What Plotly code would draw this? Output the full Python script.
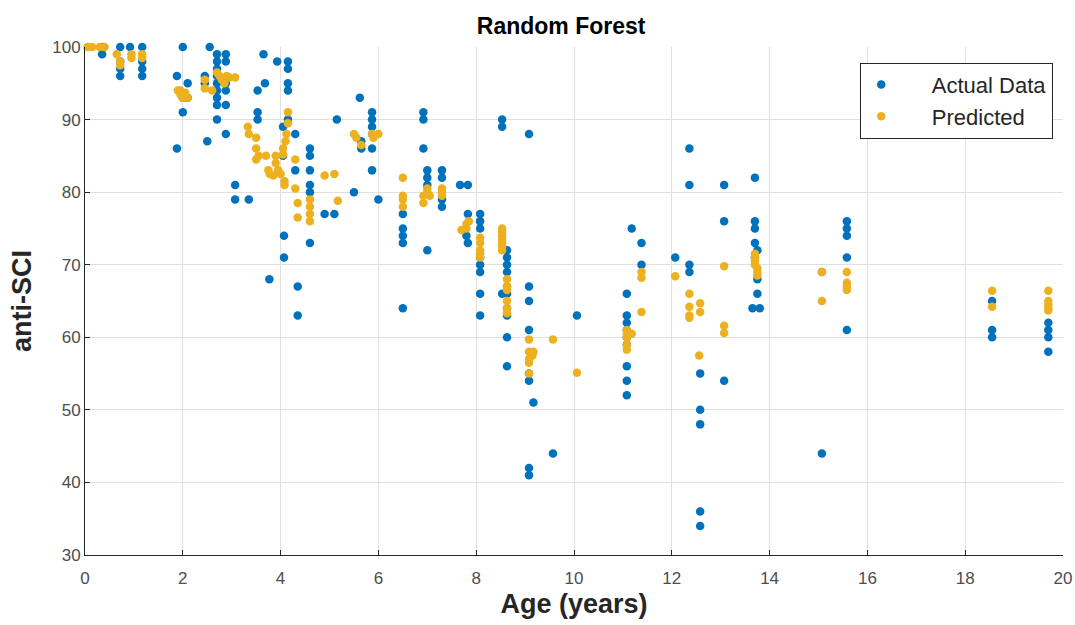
import plotly.graph_objects as go

# ---- data ----
actual_age = [0.35, 0.35,
              0.72, 0.72, 0.72, 0.72,
              0.92,
              1.17, 1.17, 1.17, 1.17,
              1.88, 1.88,
              2.0, 2.0, 2.0,
              2.1, 2.1,
              2.45, 2.45, 2.5,
              2.55,
              2.7, 2.7, 2.7, 2.7, 2.7, 2.7, 2.7, 2.7, 2.7,
              2.88, 2.88, 2.88, 2.88, 2.88, 2.88,
              3.07, 3.07, 3.35,
              3.53, 3.53, 3.53,
              3.65, 3.68,
              3.77,
              3.93,
              4.05, 4.05, 4.07, 4.07,
              4.15, 4.15, 4.15, 4.15, 4.15,
              4.3, 4.3,
              4.35, 4.35,
              4.6, 4.6, 4.6, 4.6, 4.6, 4.6,
              4.9, 5.1, 5.15,
              5.5,
              5.62, 5.65, 5.65,
              5.87, 5.87, 5.87, 5.87, 5.87, 5.87,
              6.0,
              6.5, 6.5, 6.5, 6.5, 6.5,
              6.92, 6.92, 6.92,
              7.0, 7.0, 7.0, 7.0,
              7.3, 7.3, 7.3, 7.3,
              7.67, 7.83,
              7.83, 7.83, 7.8,
              8.08, 8.08, 8.08, 8.08, 8.08, 8.08, 8.08, 8.08,
              8.53, 8.53, 8.53,
              8.63, 8.63, 8.63, 8.63, 8.63, 8.63, 8.63, 8.63, 8.63, 8.63,
              9.08, 9.08, 9.08, 9.08, 9.08, 9.08, 9.08, 9.08,
              9.17,
              9.57,
              10.06,
              11.08, 11.08, 11.08, 11.08, 11.08, 11.08, 11.08, 11.08, 11.08,
              11.18, 11.38, 11.38,
              12.07,
              12.36, 12.36, 12.36, 12.36,
              12.58, 12.58, 12.58, 12.58, 12.58,
              13.07, 13.07, 13.07,
              13.7, 13.7, 13.7, 13.7, 13.75, 13.7, 13.75, 13.75, 13.65, 13.8,
              15.07, 15.07,
              15.58, 15.58, 15.58, 15.58, 15.58,
              18.55, 18.55, 18.55,
              19.7, 19.7, 19.7, 19.7]
actual_sci = [100, 99,
              100, 98, 97, 96,
              100,
              100, 98, 97, 96,
              96, 86,
              100, 93, 91,
              95, 93,
              96, 95, 87,
              100,
              99, 98, 97, 96, 95, 94, 93, 92, 90,
              99, 98, 95, 94, 92, 88,
              81, 79, 79,
              94, 91, 90,
              99, 95,
              68,
              98,
              89, 85, 74, 71,
              98, 97, 95, 94, 90,
              88, 83,
              67, 63,
              86, 85, 83, 81, 80, 73,
              77, 77, 90,
              80,
              93, 87, 86,
              91, 90, 89, 88, 86, 83,
              79,
              77, 75, 74, 73, 64,
              91, 90, 86,
              83, 82, 81, 72,
              83, 82, 79, 78,
              81, 81,
              77, 73, 74,
              77, 76, 75, 71, 70, 69, 66, 63,
              90, 89, 66,
              72, 71, 70, 69, 67, 66, 64, 63, 60, 56,
              88, 67, 65, 61, 55, 54, 42, 41,
              51,
              44,
              63,
              66, 63, 62, 61, 60, 59, 56, 54, 52,
              75, 73, 70,
              71,
              86, 81, 70, 69,
              55, 50, 48, 36, 34,
              81, 76, 54,
              82, 76, 75, 73, 72, 71, 68, 66, 64, 64,
              69, 44,
              76, 75, 74, 71, 61,
              65, 61, 60,
              62, 61, 60, 58]

pred_age = [0.05, 0.15, 0.3, 0.4,
            0.65, 0.72, 0.72,
            0.95, 0.95,
            1.17, 1.17,
            1.9, 1.95, 2.0, 2.05, 2.1, 1.95,
            2.45, 2.45, 2.6,
            2.7, 2.75, 2.8, 2.85, 2.9, 2.95,
            3.07,
            3.33, 3.35,
            3.5, 3.5, 3.55, 3.5,
            3.7, 3.75, 3.78, 3.85, 3.9, 3.95, 3.9, 4.0,
            4.15, 4.15, 4.12, 4.1, 4.05, 4.08, 4.08, 4.05,
            4.3, 4.3,
            4.35, 4.35,
            4.6, 4.6, 4.6, 4.6,
            4.9, 5.1, 5.17,
            5.5, 5.55, 5.65,
            5.87, 5.9, 6.0,
            6.5, 6.5, 6.5, 6.5,
            6.92, 6.92, 7.0, 7.0, 7.05,
            7.3, 7.3, 7.3,
            7.7, 7.8, 7.85, 7.8,
            8.08, 8.08, 8.08, 8.08, 8.08,
            8.53, 8.53, 8.53, 8.53, 8.53, 8.53, 8.53,
            8.63, 8.63, 8.63, 8.63, 8.63, 8.63,
            9.08, 9.08, 9.08, 9.08, 9.08, 9.15, 9.17,
            9.57,
            10.06,
            11.08, 11.08, 11.08, 11.08, 11.08, 11.18,
            11.38, 11.38, 11.38,
            12.07,
            12.36, 12.36, 12.36, 12.36,
            12.58, 12.58, 12.56,
            13.07, 13.07, 13.07,
            13.7, 13.7, 13.7, 13.7, 13.75, 13.75, 13.75,
            15.07, 15.07,
            15.58, 15.58, 15.58, 15.58,
            18.55, 18.55,
            19.7, 19.7, 19.7, 19.7, 19.7]
pred_sci = [100, 100, 100, 100,
            99, 98, 97.5,
            99, 98.5,
            99, 98.5,
            94, 93.5, 93, 93.7, 93, 94,
            95.5, 94.3, 94,
            96.5, 96, 95.5, 95, 96, 95.8,
            95.8,
            89, 88,
            87.5, 86, 85, 84.5,
            85, 83, 82.5, 82.3, 84, 83, 85, 82.5,
            91, 89.5, 88, 87, 86, 81.5, 81, 85.2,
            84.5, 80.5,
            78.5, 76.5,
            79, 78, 77, 76,
            82.3, 82.5, 78.8,
            88, 87.5, 86.5,
            88, 87.5, 88,
            82, 79.5, 79, 78,
            79.5, 78.5, 80.5, 80, 79.5,
            80.5, 80, 79.5,
            74.8, 75.6, 76, 75,
            73.7, 73, 72, 71.5, 71,
            75, 74.5, 74, 73.5, 73, 72.5, 72,
            68, 67, 66.5, 65, 64, 63.3,
            59.7, 58, 57, 56.5, 55, 57.5, 58,
            59.7,
            55.1,
            61, 60.5, 60, 59, 58.3, 60.5,
            69, 68.2, 63.5,
            68.4,
            66, 64.2, 62.7, 63,
            64.7, 63.5, 57.5,
            69.8, 61.6, 60.6,
            71.5, 71, 70.5, 70, 69.5, 69, 68.5,
            69, 65,
            69, 67.5, 67, 66.5,
            66.4, 64.2,
            66.4, 65, 64.5, 64, 63.7]

series_names = ["Actual Data", "Predicted"]
x_ticks = [0, 2, 4, 6, 8, 10, 12, 14, 16, 18, 20]
y_ticks = [30, 40, 50, 60, 70, 80, 90, 100]

FONT = "Liberation Sans, Arial, Helvetica, sans-serif"
BLUE = "#0072BD"
ORANGE = "#EDB120"
PAD = "\u00a0" * 5

fig = go.Figure()
fig.add_trace(go.Scatter(x=actual_age, y=actual_sci, mode="markers",
                         name=PAD + series_names[0], cliponaxis=False,
                         marker=dict(color=BLUE, size=8.5, line=dict(width=0))))
fig.add_trace(go.Scatter(x=pred_age, y=pred_sci, mode="markers",
                         name=PAD + series_names[1], cliponaxis=False,
                         marker=dict(color=ORANGE, size=8.5, line=dict(width=0))))

axis_common = dict(showgrid=True, gridcolor="#e0e0e0", gridwidth=1,
                   showline=True, linecolor="#262626", linewidth=1,
                   ticks="inside", ticklen=5, tickcolor="#262626",
                   tickfont=dict(family=FONT, size=17, color="#4d4d4d"),
                   zeroline=False, mirror=False, automargin=False)

fig.update_layout(
    width=1075, height=625,
    paper_bgcolor="white", plot_bgcolor="white",
    margin=dict(l=85, r=12, t=47, b=70),
    title=dict(text="Random Forest", x=0.522, xref="container", xanchor="center",
               y=1 - 26 / 625, yref="container", yanchor="middle",
               font=dict(family=FONT, size=23, color="black", weight="bold")),
    xaxis=dict(range=[0, 20], tickvals=x_ticks, ticklabelstandoff=8,
               title=dict(text="Age (years)", standoff=6,
                          font=dict(family=FONT, size=27, color="#262626", weight="bold")),
               **axis_common),
    yaxis=dict(range=[30, 100], tickvals=y_ticks,
               title=dict(text="anti-SCI", standoff=12,
                          font=dict(family=FONT, size=27, color="#262626", weight="bold")),
               **axis_common),
    legend=dict(x=0.99, xanchor="right", y=0.969, yanchor="top",
                bgcolor="white", bordercolor="#262626", borderwidth=1,
                font=dict(family=FONT, size=22, color="#262626"),
                tracegroupgap=2),
    showlegend=True,
)

fig.write_html("out.html")
